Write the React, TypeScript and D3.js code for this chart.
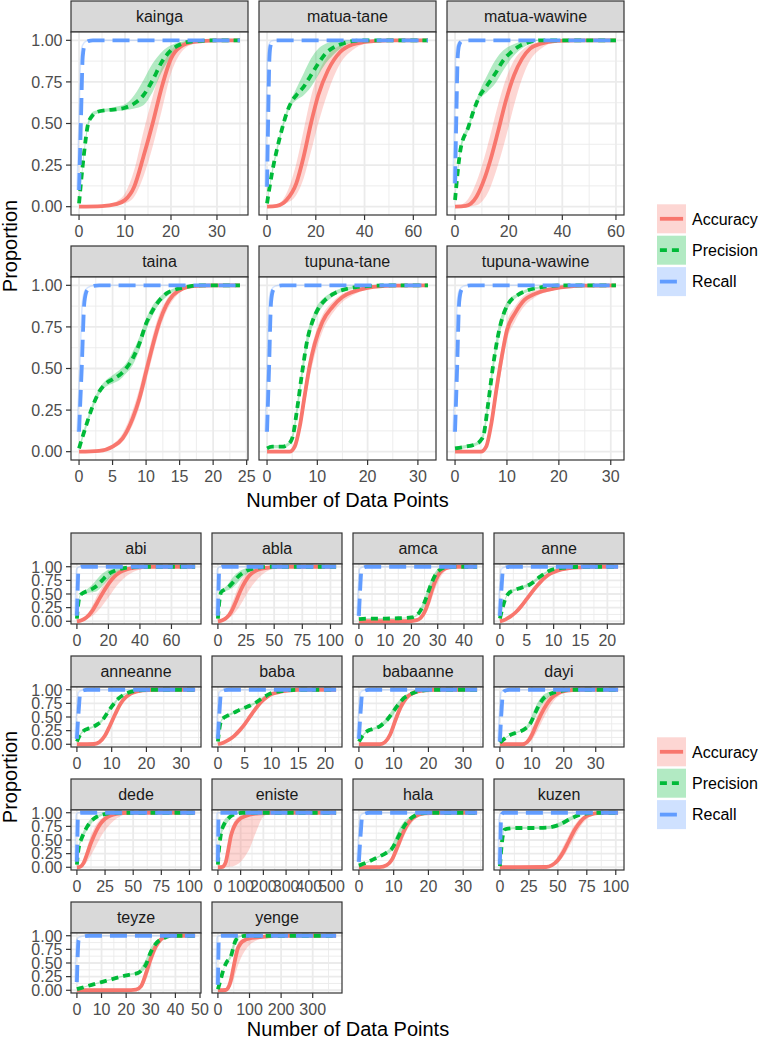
import React from 'react';
import * as d3 from 'd3';

// ---------- DATA ----------
const SERIES = ['Accuracy', 'Precision', 'Recall'];
const COLORS = ['#F8766D', '#00BA38', '#619CFF'];
const DASHES: (string | undefined)[] = [undefined, '7 5', '17 8'];

const TOP_FACETS = ['kainga', 'matua-tane', 'matua-wawine', 'taina', 'tupuna-tane', 'tupuna-wawine'];
const BOTTOM_FACETS = ['abi', 'abla', 'amca', 'anne', 'anneanne', 'baba', 'babaanne', 'dayi', 'dede', 'eniste', 'hala', 'kuzen', 'teyze', 'yenge'];

const Y_TICKS = [0, 0.25, 0.5, 0.75, 1];
const Y_LABELS = ['0.00', '0.25', '0.50', '0.75', '1.00'];

// x data range per facet
const X_MAX: Record<string, number> = {
  kainga: 35, 'matua-tane': 66, 'matua-wawine': 60, taina: 24, 'tupuna-tane': 32, 'tupuna-wawine': 31,
  abi: 75, abla: 105, amca: 45, anne: 22, anneanne: 34, baba: 22, babaanne: 34, dayi: 37,
  dede: 105, eniste: 520, hala: 34, kuzen: 102, teyze: 48, yenge: 374,
};

const X_TICKS: Record<string, number[]> = {
  kainga: [0, 10, 20, 30], 'matua-tane': [0, 20, 40, 60], 'matua-wawine': [0, 20, 40, 60],
  taina: [0, 5, 10, 15, 20, 25], 'tupuna-tane': [0, 10, 20, 30], 'tupuna-wawine': [0, 10, 20, 30],
  abi: [0, 20, 40, 60], abla: [0, 25, 50, 75, 100], amca: [0, 10, 20, 30, 40], anne: [0, 5, 10, 15, 20],
  anneanne: [0, 10, 20, 30], baba: [0, 5, 10, 15, 20], babaanne: [0, 10, 20, 30], dayi: [0, 10, 20, 30],
  dede: [0, 25, 50, 75, 100], eniste: [0, 100, 200, 300, 400, 500], hala: [0, 10, 20, 30],
  kuzen: [0, 25, 50, 75, 100], teyze: [0, 10, 20, 30, 40, 50], yenge: [0, 100, 200, 300],
};

// Accuracy rows: [x, value, lower, upper]
const ACC: Record<string, number[][]> = {
  kainga: [[0,0,0,0],[5,0.003,0.001,0.006],[8,0.015,0.008,0.03],[10,0.04,0.02,0.08],[12,0.12,0.06,0.22],[14,0.3,0.18,0.45],[16,0.5,0.36,0.66],[18,0.72,0.58,0.84],[20,0.89,0.8,0.94],[22,0.96,0.92,0.985],[25,0.99,0.98,1],[30,1,1,1],[35,1,1,1]],
  'matua-tane': [[0,0,0,0],[4,0.005,0.002,0.01],[8,0.04,0.02,0.08],[12,0.14,0.07,0.26],[15,0.3,0.17,0.46],[18,0.5,0.33,0.66],[21,0.67,0.5,0.8],[25,0.82,0.69,0.91],[30,0.93,0.86,0.97],[35,0.975,0.94,0.99],[40,0.99,0.98,1],[50,1,1,1],[66,1,1,1]],
  'matua-wawine': [[0,0,0,0],[4,0.005,0,0.03],[8,0.06,0.008,0.15],[11,0.17,0.05,0.3],[13,0.27,0.11,0.42],[16,0.45,0.25,0.61],[19,0.64,0.42,0.77],[22,0.79,0.61,0.88],[25,0.89,0.77,0.94],[28,0.95,0.88,0.975],[32,0.98,0.95,0.99],[38,0.997,0.99,1],[45,1,1,1],[60,1,1,1]],
  taina: [[0,0,0,0],[3,0.005,0.003,0.008],[5,0.03,0.02,0.045],[6.5,0.08,0.06,0.11],[8,0.2,0.16,0.25],[9,0.32,0.27,0.38],[10,0.48,0.42,0.54],[11,0.64,0.58,0.7],[12,0.78,0.73,0.83],[13,0.88,0.84,0.91],[14,0.94,0.91,0.96],[15.5,0.98,0.97,0.99],[17,0.995,0.99,1],[20,1,1,1],[24,1,1,1]],
  'tupuna-tane': [[0,0,0,0],[4.5,0,0,0],[5.5,0.03,0.02,0.05],[6.5,0.15,0.11,0.2],[7.5,0.34,0.28,0.4],[8.5,0.52,0.45,0.58],[9.5,0.65,0.58,0.7],[11,0.78,0.72,0.82],[13,0.87,0.83,0.9],[15,0.93,0.9,0.95],[17,0.96,0.94,0.975],[20,0.985,0.975,0.99],[25,0.998,0.995,1],[32,1,1,1]],
  'tupuna-wawine': [[0,0,0,0],[5,0,0,0],[6,0.03,0.02,0.05],[7,0.17,0.13,0.22],[8,0.38,0.32,0.44],[9,0.57,0.5,0.63],[10,0.73,0.67,0.78],[11.5,0.83,0.78,0.87],[13,0.9,0.86,0.93],[15.5,0.95,0.93,0.97],[19,0.98,0.97,0.99],[25,0.998,0.995,1],[31,1,1,1]],
  abi: [[0,0,0,0],[3,0.02,0.01,0.03],[6,0.07,0.04,0.1],[10,0.2,0.1,0.3],[13,0.35,0.18,0.48],[16,0.5,0.28,0.63],[19,0.64,0.4,0.76],[22,0.76,0.52,0.86],[25,0.85,0.64,0.92],[28,0.91,0.74,0.96],[32,0.955,0.84,0.985],[36,0.98,0.91,0.995],[40,0.99,0.95,1],[45,1,0.98,1],[50,1,1,1],[75,1,1,1]],
  abla: [[0,0,0,0],[4,0.02,0.01,0.03],[8,0.07,0.04,0.11],[12,0.18,0.09,0.3],[16,0.36,0.18,0.52],[20,0.56,0.3,0.72],[24,0.72,0.44,0.85],[28,0.84,0.58,0.92],[33,0.92,0.72,0.97],[38,0.96,0.83,0.99],[45,0.985,0.93,1],[52,1,0.98,1],[60,1,1,1],[105,1,1,1]],
  amca: [[0,0,0,0],[15,0,0,0],[20,0.005,0.002,0.01],[22,0.02,0.01,0.04],[23.5,0.06,0.03,0.1],[25,0.17,0.1,0.26],[26.5,0.36,0.24,0.48],[28,0.6,0.45,0.72],[29.5,0.78,0.65,0.88],[31,0.9,0.8,0.95],[33,0.97,0.92,0.99],[35,0.995,0.97,1],[38,1,1,1],[45,1,1,1]],
  anne: [[0,0,0,0],[1,0.03,0.02,0.04],[2,0.09,0.07,0.11],[3,0.17,0.14,0.2],[4,0.28,0.24,0.32],[5,0.41,0.37,0.45],[6,0.54,0.5,0.58],[7,0.66,0.62,0.7],[8,0.77,0.73,0.8],[9,0.85,0.82,0.87],[10,0.9,0.88,0.92],[11.5,0.95,0.93,0.96],[13,0.975,0.965,0.985],[15,0.99,0.985,1],[17,1,1,1],[22,1,1,1]],
  anneanne: [[0,0,0,0],[5,0.005,0.002,0.01],[6.5,0.04,0.02,0.06],[8,0.15,0.11,0.2],[9.5,0.34,0.28,0.4],[11,0.55,0.49,0.61],[12.5,0.74,0.68,0.79],[14,0.86,0.82,0.9],[15.5,0.93,0.9,0.95],[17,0.965,0.95,0.98],[19,0.99,0.98,1],[22,1,1,1],[34,1,1,1]],
  baba: [[0,0,0,0],[1,0.03,0.02,0.04],[2,0.08,0.06,0.1],[3,0.15,0.12,0.18],[4,0.25,0.21,0.29],[5,0.37,0.33,0.41],[6,0.51,0.47,0.55],[7,0.65,0.61,0.69],[8,0.77,0.73,0.8],[9,0.86,0.83,0.89],[10,0.92,0.9,0.94],[11.5,0.96,0.95,0.97],[13,0.985,0.98,0.99],[15,1,1,1],[22,1,1,1]],
  babaanne: [[0,0,0,0],[6,0,0,0],[7.5,0.04,0.02,0.07],[9,0.18,0.12,0.25],[10.5,0.44,0.35,0.53],[12,0.68,0.59,0.76],[13.5,0.84,0.77,0.89],[15,0.92,0.88,0.95],[17,0.97,0.95,0.985],[19,0.99,0.985,1],[22,1,1,1],[34,1,1,1]],
  dayi: [[0,0,0,0],[7,0,0,0],[8.5,0.04,0.02,0.08],[10,0.17,0.08,0.28],[11.5,0.37,0.22,0.5],[13,0.56,0.4,0.7],[14.5,0.72,0.57,0.84],[16,0.84,0.72,0.92],[17.5,0.91,0.84,0.96],[19,0.96,0.91,0.985],[21,0.985,0.96,1],[24,1,0.99,1],[27,1,1,1],[37,1,1,1]],
  dede: [[0,0,0,0],[3,0.01,0.005,0.02],[6,0.08,0.03,0.14],[9,0.24,0.1,0.36],[12,0.42,0.2,0.56],[15,0.57,0.31,0.7],[18,0.7,0.43,0.81],[21,0.8,0.55,0.88],[25,0.89,0.68,0.94],[30,0.95,0.8,0.98],[35,0.98,0.89,0.995],[40,0.995,0.95,1],[50,1,0.99,1],[60,1,1,1],[105,1,1,1]],
  eniste: [[0,0,0,0],[15,0.003,0,0.005],[25,0.02,0,0.05],[35,0.1,0.003,0.2],[43,0.26,0.005,0.38],[50,0.42,0.01,0.55],[57,0.57,0.012,0.68],[65,0.68,0.015,0.78],[80,0.81,0.04,0.89],[100,0.9,0.1,0.95],[116,0.93,0.18,0.97],[140,0.965,0.35,0.99],[170,0.985,0.67,1],[200,0.995,0.93,1],[240,1,1,1],[520,1,1,1]],
  hala: [[0,0,0,0],[6,0.003,0.001,0.005],[8,0.04,0.02,0.07],[9.5,0.14,0.08,0.2],[11,0.36,0.26,0.46],[12.5,0.6,0.49,0.7],[14,0.79,0.7,0.86],[15.5,0.9,0.84,0.94],[17,0.96,0.93,0.98],[19,0.99,0.98,1],[22,1,1,1],[34,1,1,1]],
  kuzen: [[0,0,0,0],[40,0.005,0.002,0.01],[45,0.04,0.02,0.07],[50,0.13,0.08,0.2],[55,0.29,0.2,0.4],[60,0.5,0.38,0.61],[65,0.7,0.58,0.79],[70,0.85,0.76,0.91],[75,0.94,0.88,0.97],[80,0.98,0.95,0.99],[85,0.995,0.985,1],[90,1,1,1],[102,1,1,1]],
  teyze: [[0,0,0,0],[22,0.002,0.001,0.004],[24,0.01,0.005,0.02],[26,0.07,0.04,0.12],[28,0.3,0.18,0.42],[30,0.58,0.45,0.7],[32,0.8,0.7,0.88],[34,0.93,0.87,0.96],[36,0.98,0.96,0.99],[38,1,0.99,1],[40,1,1,1],[48,1,1,1]],
  yenge: [[0,0,0,0],[25,0.005,0.002,0.01],[32,0.04,0.02,0.08],[40,0.16,0.07,0.26],[47,0.35,0.16,0.5],[54,0.55,0.28,0.7],[62,0.75,0.43,0.85],[72,0.86,0.58,0.92],[85,0.92,0.72,0.96],[100,0.95,0.83,0.98],[125,0.97,0.92,0.99],[150,0.985,0.97,1],[180,1,0.99,1],[210,1,1,1],[374,1,1,1]],
};

// Precision rows: [x, value, lower, upper]
const PREC: Record<string, number[][]> = {
  kainga: [[0,0.02,0.01,0.03],[1,0.3,0.28,0.32],[2,0.5,0.48,0.52],[3,0.55,0.54,0.57],[4,0.57,0.56,0.58],[6,0.58,0.57,0.59],[8,0.585,0.575,0.6],[10,0.595,0.58,0.615],[12,0.62,0.59,0.67],[14,0.67,0.61,0.76],[16,0.76,0.69,0.86],[18,0.87,0.81,0.93],[20,0.94,0.9,0.97],[22,0.975,0.96,0.99],[25,0.995,0.99,1],[30,1,1,1],[35,1,1,1]],
  'matua-tane': [[0,0.02,0.01,0.03],[2,0.2,0.18,0.22],[4,0.34,0.32,0.36],[6,0.46,0.44,0.48],[8,0.56,0.54,0.58],[10,0.63,0.61,0.65],[12,0.67,0.64,0.71],[15,0.72,0.67,0.8],[18,0.79,0.72,0.89],[21,0.86,0.79,0.95],[24,0.92,0.86,0.98],[27,0.955,0.91,0.995],[30,0.975,0.95,1],[35,0.995,0.99,1],[40,1,1,1],[66,1,1,1]],
  'matua-wawine': [[0,0.04,0.03,0.05],[2,0.34,0.32,0.36],[5,0.48,0.46,0.5],[7,0.58,0.56,0.6],[9,0.66,0.64,0.69],[12,0.73,0.69,0.79],[15,0.8,0.74,0.88],[18,0.88,0.82,0.94],[21,0.93,0.89,0.97],[24,0.965,0.94,0.99],[28,0.99,0.98,1],[32,1,1,1],[60,1,1,1]],
  taina: [[0,0.02,0.01,0.03],[1,0.15,0.13,0.17],[2,0.27,0.25,0.29],[3,0.36,0.34,0.38],[4,0.41,0.39,0.43],[5,0.435,0.41,0.46],[6,0.46,0.43,0.49],[7,0.5,0.47,0.53],[8,0.56,0.52,0.6],[9,0.65,0.61,0.69],[10,0.77,0.73,0.8],[11,0.85,0.82,0.88],[12,0.91,0.89,0.93],[13,0.95,0.93,0.96],[14,0.97,0.96,0.98],[16,0.99,0.985,0.995],[18,1,1,1],[24,1,1,1]],
  'tupuna-tane': [[0,0.02,0.01,0.03],[1,0.03,0.02,0.04],[3,0.03,0.02,0.04],[4,0.04,0.03,0.05],[5,0.08,0.06,0.1],[6,0.26,0.22,0.3],[7,0.48,0.44,0.52],[8,0.67,0.63,0.71],[9,0.78,0.75,0.81],[10,0.85,0.82,0.88],[11.5,0.91,0.89,0.93],[13,0.945,0.93,0.96],[16,0.98,0.97,0.99],[20,0.995,0.99,1],[25,1,1,1],[32,1,1,1]],
  'tupuna-wawine': [[0,0.02,0.01,0.03],[2,0.03,0.02,0.04],[4,0.045,0.035,0.055],[5,0.07,0.055,0.085],[5.5,0.1,0.08,0.13],[6.3,0.27,0.23,0.31],[7.3,0.51,0.47,0.55],[8.5,0.73,0.69,0.77],[9.5,0.84,0.81,0.87],[10.5,0.9,0.88,0.92],[12,0.94,0.93,0.95],[14,0.97,0.96,0.98],[17,0.99,0.985,0.995],[20,1,1,1],[31,1,1,1]],
  abi: [[0,0.05,0.04,0.06],[1,0.35,0.33,0.37],[2,0.47,0.45,0.49],[4,0.52,0.5,0.54],[7,0.56,0.52,0.6],[10,0.6,0.53,0.68],[13,0.66,0.56,0.78],[16,0.75,0.64,0.87],[19,0.84,0.74,0.93],[22,0.9,0.82,0.96],[25,0.94,0.89,0.98],[30,0.975,0.95,0.99],[35,0.99,0.98,1],[40,1,1,1],[75,1,1,1]],
  abla: [[0,0.05,0.04,0.06],[1.5,0.4,0.38,0.42],[3,0.54,0.52,0.56],[6,0.58,0.55,0.62],[9,0.62,0.57,0.68],[12,0.68,0.6,0.77],[15,0.75,0.65,0.85],[18,0.82,0.72,0.9],[21,0.87,0.79,0.94],[25,0.92,0.86,0.97],[30,0.96,0.93,0.99],[36,0.985,0.97,1],[45,1,1,1],[105,1,1,1]],
  amca: [[0,0.04,0.03,0.05],[5,0.05,0.04,0.06],[10,0.05,0.04,0.06],[15,0.055,0.045,0.065],[20,0.07,0.06,0.08],[22,0.11,0.09,0.13],[23.5,0.2,0.16,0.25],[25,0.35,0.28,0.43],[26.5,0.55,0.46,0.64],[28,0.74,0.66,0.81],[29.5,0.88,0.82,0.93],[31,0.95,0.92,0.98],[33,0.99,0.98,1],[36,1,1,1],[45,1,1,1]],
  anne: [[0,0.05,0.04,0.06],[0.5,0.25,0.23,0.27],[1,0.41,0.39,0.43],[1.7,0.52,0.5,0.54],[2.6,0.57,0.55,0.59],[3.5,0.6,0.58,0.62],[4.5,0.63,0.61,0.66],[5.5,0.67,0.64,0.7],[6.5,0.74,0.71,0.77],[7.5,0.82,0.79,0.85],[8.5,0.89,0.87,0.91],[9.5,0.94,0.92,0.95],[11,0.97,0.96,0.98],[13,0.99,0.985,0.995],[15,1,1,1],[22,1,1,1]],
  anneanne: [[0,0.05,0.04,0.06],[1,0.18,0.16,0.2],[2,0.25,0.23,0.27],[3,0.28,0.26,0.3],[4,0.3,0.28,0.32],[5,0.33,0.31,0.35],[6,0.37,0.34,0.4],[7,0.42,0.39,0.45],[8,0.5,0.47,0.53],[9,0.6,0.57,0.63],[10,0.69,0.66,0.72],[11,0.77,0.74,0.8],[12,0.84,0.82,0.86],[13,0.89,0.87,0.91],[14.5,0.94,0.93,0.95],[16,0.97,0.96,0.98],[18,0.99,0.985,0.995],[21,1,1,1],[34,1,1,1]],
  baba: [[0,0.05,0.04,0.06],[0.3,0.3,0.28,0.32],[0.6,0.43,0.41,0.45],[1,0.48,0.46,0.5],[1.7,0.52,0.5,0.54],[3,0.58,0.56,0.6],[4,0.63,0.61,0.65],[5,0.67,0.65,0.69],[6,0.71,0.69,0.73],[7,0.76,0.74,0.78],[8,0.83,0.81,0.85],[9,0.89,0.87,0.91],[10,0.94,0.93,0.95],[11.5,0.97,0.96,0.98],[13,0.99,0.985,0.995],[15,1,1,1],[22,1,1,1]],
  babaanne: [[0,0.05,0.04,0.06],[1,0.15,0.13,0.17],[2,0.22,0.2,0.24],[3,0.26,0.24,0.28],[4,0.28,0.26,0.3],[5,0.3,0.28,0.32],[6,0.33,0.3,0.36],[7,0.38,0.34,0.42],[8,0.44,0.39,0.49],[9,0.52,0.46,0.58],[10,0.61,0.55,0.67],[11,0.7,0.64,0.76],[12,0.78,0.72,0.83],[13,0.85,0.8,0.89],[14.5,0.91,0.88,0.94],[16,0.95,0.93,0.97],[18,0.98,0.97,0.99],[21,1,1,1],[34,1,1,1]],
  dayi: [[0,0.03,0.02,0.04],[1,0.08,0.07,0.09],[2,0.13,0.12,0.14],[3.5,0.18,0.17,0.19],[5,0.21,0.2,0.22],[6.5,0.24,0.23,0.26],[8,0.29,0.27,0.32],[9.5,0.38,0.33,0.45],[10.5,0.5,0.42,0.6],[11.5,0.63,0.54,0.73],[12.5,0.74,0.65,0.83],[13.5,0.83,0.75,0.9],[15,0.9,0.85,0.95],[17,0.95,0.92,0.98],[19,0.975,0.96,0.99],[22,1,1,1],[37,1,1,1]],
  dede: [[0,0.05,0.04,0.06],[1,0.27,0.25,0.29],[2,0.4,0.37,0.43],[4,0.52,0.47,0.57],[6,0.62,0.56,0.68],[9,0.74,0.68,0.8],[12,0.83,0.78,0.88],[15,0.89,0.85,0.93],[18,0.93,0.9,0.96],[22,0.96,0.94,0.98],[27,0.985,0.97,1],[32,1,1,1],[105,1,1,1]],
  eniste: [[0,0.05,0.04,0.06],[3,0.25,0.23,0.27],[6,0.38,0.35,0.41],[10,0.52,0.47,0.57],[15,0.65,0.58,0.72],[20,0.72,0.65,0.8],[30,0.81,0.74,0.88],[43,0.88,0.82,0.93],[55,0.93,0.89,0.96],[72,0.97,0.95,0.99],[90,0.99,0.98,1],[110,1,1,1],[520,1,1,1]],
  hala: [[0,0.03,0.02,0.04],[2,0.08,0.07,0.09],[4,0.14,0.13,0.15],[6,0.2,0.19,0.22],[8,0.27,0.24,0.3],[9.5,0.34,0.3,0.4],[10.5,0.45,0.38,0.55],[11.5,0.58,0.5,0.69],[12.5,0.7,0.62,0.8],[13.5,0.8,0.73,0.87],[15,0.9,0.85,0.94],[16.5,0.96,0.93,0.98],[18,0.99,0.98,1],[20,1,1,1],[34,1,1,1]],
  kuzen: [[0,0.02,0.01,0.03],[2,0.5,0.48,0.52],[4,0.69,0.67,0.71],[7,0.71,0.69,0.73],[15,0.72,0.7,0.74],[30,0.72,0.7,0.74],[40,0.725,0.7,0.75],[45,0.74,0.71,0.77],[50,0.77,0.73,0.81],[55,0.82,0.78,0.86],[60,0.88,0.84,0.92],[65,0.93,0.9,0.96],[70,0.97,0.95,0.985],[75,0.99,0.98,1],[80,1,1,1],[102,1,1,1]],
  teyze: [[0,0.02,0.01,0.03],[3,0.06,0.05,0.07],[6,0.1,0.09,0.11],[10,0.15,0.14,0.16],[14,0.2,0.19,0.21],[18,0.25,0.24,0.26],[22,0.29,0.28,0.31],[25,0.32,0.3,0.35],[26.5,0.38,0.34,0.45],[28,0.47,0.41,0.57],[30,0.7,0.62,0.78],[32,0.85,0.8,0.9],[34,0.93,0.9,0.96],[36,0.97,0.96,0.99],[38,1,1,1],[48,1,1,1]],
  yenge: [[0,0.02,0.01,0.03],[5,0.12,0.11,0.13],[10,0.22,0.21,0.23],[15,0.33,0.32,0.34],[20,0.42,0.41,0.43],[28,0.52,0.5,0.54],[35,0.57,0.54,0.6],[41,0.62,0.58,0.7],[46,0.72,0.66,0.82],[52,0.85,0.78,0.92],[58,0.93,0.88,0.97],[65,0.97,0.95,0.99],[75,0.99,0.98,1],[90,1,1,1],[374,1,1,1]],
};

// Recall points: [x, value]
const REC: Record<string, number[][]> = {
  kainga: [[0,0.1],[0.4,0.5],[0.8,0.9],[1.2,0.97],[2,0.995],[3,1],[35,1]],
  'matua-tane': [[0,0.12],[0.5,0.55],[1,0.9],[1.5,0.97],[2.5,0.995],[4,1],[66,1]],
  'matua-wawine': [[0,0.14],[0.5,0.55],[1,0.9],[1.5,0.97],[2.5,0.995],[4,1],[60,1]],
  taina: [[0,0.12],[0.4,0.5],[0.8,0.9],[1.2,0.97],[2,0.995],[3,1],[24,1]],
  'tupuna-tane': [[0,0.12],[0.4,0.5],[0.8,0.9],[1.2,0.97],[2,0.995],[3,1],[32,1]],
  'tupuna-wawine': [[0,0.12],[0.4,0.5],[0.8,0.9],[1.2,0.97],[2,0.995],[3,1],[31,1]],
  abi: [[0,0.1],[0.5,0.6],[1,0.95],[2,0.99],[3,1],[75,1]],
  abla: [[0,0.1],[0.6,0.6],[1.2,0.95],[2.5,0.99],[4,1],[105,1]],
  amca: [[0,0.1],[0.5,0.6],[1,0.95],[2,0.99],[3,1],[45,1]],
  anne: [[0,0.1],[0.3,0.6],[0.6,0.95],[1.2,0.99],[2,1],[22,1]],
  anneanne: [[0,0.1],[0.5,0.6],[1,0.95],[2,0.99],[3,1],[34,1]],
  baba: [[0,0.1],[0.3,0.6],[0.6,0.95],[1.2,0.99],[2,1],[22,1]],
  babaanne: [[0,0.1],[0.5,0.6],[1,0.95],[2,0.99],[3,1],[34,1]],
  dayi: [[0,0.05],[0.5,0.6],[1,0.95],[2,0.99],[3,1],[37,1]],
  dede: [[0,0.1],[0.5,0.6],[1,0.95],[2,0.99],[3,1],[105,1]],
  eniste: [[0,0.1],[1.5,0.6],[3,0.95],[6,0.99],[10,1],[520,1]],
  hala: [[0,0.1],[0.5,0.6],[1,0.95],[2,0.99],[3,1],[34,1]],
  kuzen: [[0,0.05],[0.5,0.5],[1,0.9],[2,0.98],[3,1],[102,1]],
  teyze: [[0,0.15],[0.3,0.6],[0.7,0.92],[1.5,0.97],[3,0.99],[5,1],[48,1]],
  yenge: [[0,0.1],[1.5,0.6],[3,0.95],[6,0.99],[10,1],[374,1]],
};

// ---------- RENDERING ----------
const FONT = '"Liberation Sans", Arial, Helvetica, sans-serif';
const LINE_W = 3.8;

function minorBreaks(ticks: number[], dom: number[]) {
  const s = ticks[1] - ticks[0];
  const out: number[] = [];
  for (let v = ticks[0] - s / 2; v <= ticks[ticks.length - 1] + s / 2 + 1e-9; v += s) {
    if (v >= dom[0] && v <= dom[1]) out.push(v);
  }
  return out;
}

type PanelProps = { name: string; x: number; top: number; w: number; stripH: number; panelH: number; yAxis: boolean };

function Panel({ name, x, top, w, stripH, panelH, yAxis }: PanelProps) {
  const pTop = top + stripH;
  const pBot = pTop + panelH;
  const xmax = X_MAX[name];
  const dom = [-0.05 * xmax, xmax * 1.05];
  const xs = d3.scaleLinear().domain(dom).range([x, x + w]);
  const ys = d3.scaleLinear().domain([-0.05, 1.05]).range([pBot, pTop]);
  const ticks = X_TICKS[name];
  const xMinor = minorBreaks(ticks, dom);
  const yMinor = minorBreaks(Y_TICKS, [-0.05, 1.05]);
  const clipId = 'clip-' + name;

  const area = d3.area<number[]>().x(d => xs(d[0])).y0(d => ys(d[2])).y1(d => ys(d[3])).curve(d3.curveMonotoneX);
  const line = d3.line<number[]>().x(d => xs(d[0])).y(d => ys(d[1])).curve(d3.curveMonotoneX);

  const series = [ACC[name], PREC[name], REC[name]];

  return (
    <g>
      <defs>
        <clipPath id={clipId}>
          <rect x={x} y={pTop} width={w} height={panelH} />
        </clipPath>
      </defs>
      <rect x={x} y={top} width={w} height={stripH} fill="#D9D9D9" stroke="#333333" strokeWidth={1.2} />
      <text x={x + w / 2} y={top + stripH / 2 + 5.8} textAnchor="middle" fontSize={16} fill="#1A1A1A" fontFamily={FONT}>{name}</text>
      <rect x={x} y={pTop} width={w} height={panelH} fill="white" />
      <g clipPath={`url(#${clipId})`}>
        {yMinor.map(v => <line key={'ym' + v} x1={x} x2={x + w} y1={ys(v)} y2={ys(v)} stroke="#EBEBEB" strokeWidth={0.9} />)}
        {xMinor.map(v => <line key={'xm' + v} x1={xs(v)} x2={xs(v)} y1={pTop} y2={pBot} stroke="#EBEBEB" strokeWidth={0.9} />)}
        {Y_TICKS.map(v => <line key={'yM' + v} x1={x} x2={x + w} y1={ys(v)} y2={ys(v)} stroke="#EBEBEB" strokeWidth={1.8} />)}
        {ticks.map(v => <line key={'xM' + v} x1={xs(v)} x2={xs(v)} y1={pTop} y2={pBot} stroke="#EBEBEB" strokeWidth={1.8} />)}
        {series.slice(0, 2).map((s, i) => (
          <path key={'r' + i} d={area(s) || ''} fill={COLORS[i]} fillOpacity={0.3} stroke="none" />
        ))}
        <path d={line(series[2]) || ''} fill="none" stroke={COLORS[2]} strokeOpacity={0.25} strokeWidth={1.5} transform="translate(-2,0)" />
        {series.map((s, i) => (
          <path key={'l' + i} d={line(s) || ''} fill="none" stroke={COLORS[i]} strokeWidth={LINE_W} strokeDasharray={DASHES[i]} strokeLinecap="butt" strokeLinejoin="round" />
        ))}
      </g>
      <rect x={x} y={pTop} width={w} height={panelH} fill="none" stroke="#333333" strokeWidth={1.2} />
      {ticks.map(v => (
        <g key={'xt' + v}>
          <line x1={xs(v)} x2={xs(v)} y1={pBot} y2={pBot + 5} stroke="#333333" strokeWidth={1.2} />
          <text x={xs(v)} y={pBot + 21.5} textAnchor="middle" fontSize={16} fill="#4D4D4D" fontFamily={FONT}>{v}</text>
        </g>
      ))}
      {yAxis && Y_TICKS.map((v, i) => (
        <g key={'yt' + v}>
          <line x1={x - 5} x2={x} y1={ys(v)} y2={ys(v)} stroke="#333333" strokeWidth={1.2} />
          <text x={x - 8.5} y={ys(v) + 5.8} textAnchor="end" fontSize={16} fill="#4D4D4D" fontFamily={FONT}>{Y_LABELS[i]}</text>
        </g>
      ))}
    </g>
  );
}

function Legend({ top }: { top: number }) {
  const kx = 657, kw = 29, kh = 29, pitch = 31.4;
  return (
    <g>
      {SERIES.map((s, i) => {
        const y = top + i * pitch;
        return (
          <g key={s}>
            <rect x={kx} y={y} width={kw} height={kh} fill={COLORS[i]} fillOpacity={0.3} />
            <line x1={kx + kw * 0.1} x2={kx + kw * 0.9} y1={y + kh / 2} y2={y + kh / 2} stroke={COLORS[i]} strokeWidth={LINE_W} strokeDasharray={DASHES[i]} />
            <text x={692} y={y + kh / 2 + 5.8} fontSize={16} fill="#000" fontFamily={FONT}>{s}</text>
          </g>
        );
      })}
    </g>
  );
}

export default function App() {
  const topCols = [71, 259, 447];
  const topRows = [1, 246];
  const botCols = [71, 212, 353, 494];
  const botRows = [533, 656, 779, 902];
  return (
    <svg width={759} height={1039} style={{ position: 'absolute', left: 0, top: 0, background: 'white' }} fontFamily={FONT}>
      <rect x={0} y={0} width={759} height={1039} fill="white" />
      {TOP_FACETS.map((f, i) => (
        <Panel key={f} name={f} x={topCols[i % 3]} top={topRows[Math.floor(i / 3)]} w={177} stripH={31} panelH={183} yAxis={i % 3 === 0} />
      ))}
      <text x={347.5} y={506.5} textAnchor="middle" fontSize={20} fill="#000">Number of Data Points</text>
      <text transform="translate(16.5,246) rotate(-90)" textAnchor="middle" fontSize={20} fill="#000">Proportion</text>
      <Legend top={204.3} />

      {BOTTOM_FACETS.map((f, i) => (
        <Panel key={f} name={f} x={botCols[i % 4]} top={botRows[Math.floor(i / 4)]} w={130} stripH={31} panelH={60} yAxis={i % 4 === 0} />
      ))}
      <text x={348} y={1036} textAnchor="middle" fontSize={20} fill="#000">Number of Data Points</text>
      <text transform="translate(16.5,777) rotate(-90)" textAnchor="middle" fontSize={20} fill="#000">Proportion</text>
      <Legend top={737.3} />
    </svg>
  );
}
